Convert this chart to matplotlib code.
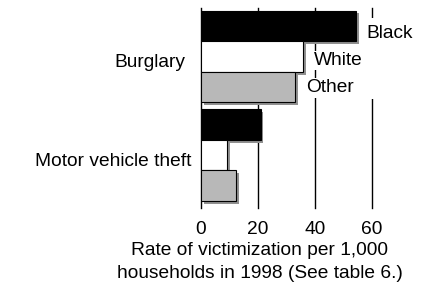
import matplotlib
matplotlib.use("Agg")
import matplotlib.pyplot as plt
import matplotlib.patheffects as pe
from matplotlib.patches import Rectangle

# data (rate per 1,000 households, 1998)
crimes = ["Burglary", "Motor vehicle theft"]
races = ["Black", "White", "Other"]
black = [54.5, 20.9]
white = [35.7, 9.1]
other = [32.9, 12.2]
xticks = [0, 20, 40, 60]

colors = {"Black": "#000000", "White": "#ffffff", "Other": "#b8b8b8"}
plt.rcParams["font.family"] = ["Liberation Sans", "DejaVu Sans"]
fs = 13.8

fig = plt.figure(figsize=(4.34, 2.9), dpi=100)
ax = fig.add_axes([201 / 434, 1 - 208 / 290, (372 - 201) / 434, 200 / 290])
ax.set_xlim(0, 60)
ax.set_ylim(1.538, -0.492)
ax.axis("off")

# grid lines behind the bars
for t in xticks:
    ax.axvline(t, color="black", lw=1.0, zorder=0, clip_on=False)

h = 0.31
shadow = [pe.SimplePatchShadow(offset=(2, -2), shadow_rgbFace="#909090", alpha=1.0), pe.Normal()]
for i, (race, vals) in enumerate(zip(races, [black, white, other])):
    ys = [g + (i - 1) * h for g in range(len(crimes))]
    bars = ax.barh(ys, vals, height=h, color=colors[race], edgecolor="black",
                   lw=0.8, zorder=2)
    for b in bars:
        b.set_path_effects(shadow)

# white area behind the series labels
ax.add_patch(Rectangle((58.5, -0.39), 15, 0.82, facecolor="white",
                       edgecolor="none", zorder=1, clip_on=False))

lab_x = [57.9, 39.5, 37.0]
lab_y = [-0.188, 0.086, 0.365]
for i, race in enumerate(races):
    ax.text(lab_x[i], lab_y[i], race, fontsize=fs,
            va="baseline", ha="left", zorder=3, clip_on=False,
            bbox=dict(facecolor="white", edgecolor="none", pad=1.0))

ax.text(-5.6, 0.107, crimes[0], fontsize=fs, ha="right", va="baseline")
ax.text(-3.25, 1.112, crimes[1], fontsize=fs, ha="right", va="baseline")

for t in xticks:
    ax.text(t, 1.80, str(t), fontsize=fs, ha="center", va="baseline", clip_on=False)

fig.text(259.5 / 434, 1 - 255 / 290, "Rate of victimization per 1,000", fontsize=fs,
         ha="center", va="baseline")
fig.text(259.5 / 434, 1 - 278 / 290, "households in 1998 (See table 6.)", fontsize=fs,
         ha="center", va="baseline")

fig.savefig("out.png", dpi=100)
